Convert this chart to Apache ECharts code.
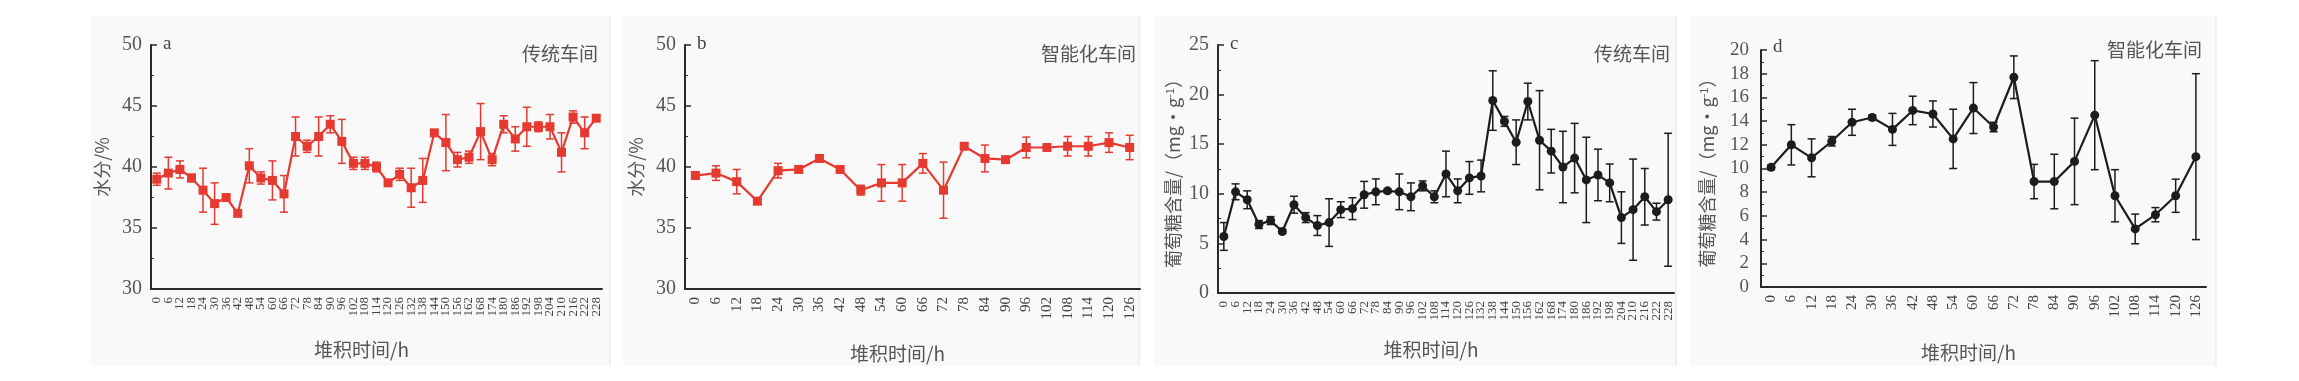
<!DOCTYPE html>
<html>
<head>
<meta charset="utf-8">
<script src="https://cdn.jsdelivr.net/npm/echarts@6/dist/echarts.min.js"></script>
<style>
html,body{margin:0;padding:0;background:#fff;}
#chart{width:2299px;height:381px;}
</style>
</head>
<body>
<div id="chart"></div>
<script>
// ---------- data ----------
const hoursLong = ['0','6','12','18','24','30','36','42','48','54','60','66','72','78','84','90','96','102','108','114','120','126','132','138','144','150','156','162','168','174','180','186','192','198','204','210','216','222','228'];
const hoursShort = ['0','6','12','18','24','30','36','42','48','54','60','66','72','78','84','90','96','102','108','114','120','126'];

// a: moisture, traditional workshop
const moistTrad = [39.0,39.5,39.8,39.1,38.1,37.0,37.5,36.2,40.1,39.1,38.9,37.8,42.5,41.7,42.5,43.5,42.1,40.3,40.3,40.0,38.7,39.4,38.3,38.9,42.8,42.0,40.6,40.8,42.9,40.6,43.5,42.3,43.3,43.3,43.3,41.2,44.1,42.8,44.0];
const moistTradErr = [0.5,1.3,0.7,0.3,1.8,1.7,0.2,0.2,1.4,0.5,1.6,1.5,1.6,0.5,1.6,0.7,1.8,0.5,0.5,0.4,0.2,0.5,1.6,1.8,0.2,2.3,0.6,0.5,2.3,0.5,0.7,1.0,1.6,0.4,1.0,1.6,0.5,1.3,0.2];

// b: moisture, intelligent workshop
const moistSmart = [39.3,39.5,38.8,37.2,39.7,39.8,40.7,39.8,38.1,38.7,38.7,40.3,38.1,41.7,40.7,40.6,41.6,41.6,41.7,41.7,42.0,41.6];
const moistSmartErr = [0.3,0.6,1.0,0.2,0.6,0.2,0.3,0.2,0.4,1.5,1.5,0.8,2.3,0.2,1.1,0.2,0.85,0.3,0.8,0.8,0.8,1.0];

// c: glucose, traditional workshop
const glucTrad = [5.7,10.2,9.4,6.9,7.3,6.2,8.9,7.6,6.8,7.1,8.4,8.5,9.9,10.2,10.3,10.2,9.7,10.8,9.7,12.0,10.3,11.6,11.8,19.4,17.3,15.2,19.3,15.4,14.3,12.7,13.6,11.4,11.9,11.1,7.6,8.4,9.7,8.2,9.4];
const glucTradErr = [1.4,0.8,0.9,0.4,0.4,0.2,0.85,0.5,1.0,2.4,0.8,1.1,1.35,1.3,0.2,1.8,1.4,0.5,0.6,2.3,1.2,1.65,1.6,3.0,0.5,2.25,1.85,5.0,2.2,3.6,3.5,4.3,2.6,1.9,2.6,5.1,2.85,0.85,6.7];

// d: glucose, intelligent workshop
const glucSmart = [10.1,12.0,10.9,12.3,13.9,14.3,13.3,14.9,14.6,12.5,15.1,13.5,17.7,8.9,8.9,10.6,14.5,7.7,4.9,6.1,7.7,11.0];
const glucSmartErr = [0.2,1.7,1.6,0.4,1.1,0.2,1.35,1.2,1.1,2.5,2.15,0.4,1.8,1.45,2.3,3.65,4.6,2.2,1.25,0.6,1.4,7.0];

const xName = '堆积时间/h';
const yNameMoist = '水分/%';
const panelTags = ['a','b','c','d'];
const panelTitles = ['传统车间','智能化车间','传统车间','智能化车间'];

// ---------- layout ----------
const RED = '#e6392f', BLACK = '#1c1c1c';
const grids = [
  {left:151, top:45, width:451, height:244},
  {left:685, top:45, width:455, height:244},
  {left:1218, top:45, width:456, height:248},
  {left:1761, top:50, width:445, height:237}
];
const panels = [
  {x:91,  w:519},
  {x:623, w:516},
  {x:1154,w:522},
  {x:1690,w:526}
];
const SERIF = '"Liberation Serif","DejaVu Serif",serif';
const CJK = '"Noto Sans CJK SC","Noto Sans",sans-serif';

const xCfg = [
  {cats:hoursLong, fs:13, gap:51},
  {cats:hoursShort, fs:15, gap:55},
  {cats:hoursLong, fs:13, gap:47},
  {cats:hoursShort, fs:15, gap:56}
];
const yCfg = [
  {min:30,max:50,interval:5,name:yNameMoist,gap:40},
  {min:30,max:50,interval:5,name:yNameMoist,gap:40},
  {min:0,max:25,interval:5,name:'葡萄糖含量/（mg•g{sup|-1}）',gap:35},
  {min:0,max:20,interval:2,name:'葡萄糖含量/（mg•g{sup|-1}）',gap:44}
];

const xAxes = [], yAxes = [];
xCfg.forEach((c,i)=>{
  xAxes.push({
    type:'category', gridIndex:i, data:c.cats, boundaryGap:true,
    axisLine:{lineStyle:{color:'#2a2a2a',width:2}},
    axisTick:{inside:true, alignWithLabel:true, length:5, lineStyle:{color:'#2a2a2a',width:1.5}},
    axisLabel:{interval:0, rotate:90, fontFamily:SERIF, fontSize:c.fs, color:'#444', margin:8},
    name:xName, nameLocation:'middle', nameGap:c.gap,
    nameTextStyle:{fontFamily:CJK, fontSize:19, color:'#555', padding:[0,30,0,0]}
  });
});
xCfg.forEach((c,i)=>{
  xAxes.push({
    type:'category', gridIndex:i, data:c.cats, boundaryGap:true,
    axisLine:{show:false},
    axisTick:{inside:true, alignWithLabel:false, length:3, lineStyle:{color:'#2a2a2a',width:1}},
    axisLabel:{show:false}
  });
});
yCfg.forEach((c,i)=>{
  yAxes.push({
    type:'value', gridIndex:i, min:c.min, max:c.max, interval:c.interval,
    splitLine:{show:false},
    axisLine:{show:true, lineStyle:{color:'#2a2a2a',width:2}},
    axisTick:{show:true, inside:true, length:6, lineStyle:{color:'#2a2a2a',width:1.5}},
    minorTick:{show:true, splitNumber:2, length:3, lineStyle:{color:'#2a2a2a',width:1}},
    axisLabel:{fontFamily:SERIF, fontSize: i===3?19:20, color:'#555', margin: i===3?12:9},
    name:c.name, nameLocation:'middle', nameGap:c.gap, nameRotate:90,
    nameTextStyle:{fontFamily:CJK, fontSize:18, color:'#555',
      rich:{sup:{fontFamily:CJK, fontSize:11, color:'#555', verticalAlign:'top', padding:[0,0,8,0]}}}
  });
});

function errSeries(idx, vals, errs, color){
  return {
    type:'custom', xAxisIndex:idx, yAxisIndex:idx, z:2,
    data: vals.map((v,k)=>[k, v, errs[k]]),
    renderItem:function(params, api){
      const k = api.value(0), v = api.value(1), e = api.value(2);
      const hi = api.coord([k, v+e]);
      const lo = api.coord([k, v-e]);
      const hw = 4;
      const st = {stroke:color, lineWidth:1.5};
      return {type:'group', children:[
        {type:'line', shape:{x1:hi[0],y1:hi[1],x2:lo[0],y2:lo[1]}, style:st},
        {type:'line', shape:{x1:hi[0]-hw,y1:hi[1],x2:hi[0]+hw,y2:hi[1]}, style:st},
        {type:'line', shape:{x1:lo[0]-hw,y1:lo[1],x2:lo[0]+hw,y2:lo[1]}, style:st}
      ]};
    }
  };
}
function lineSeries(idx, vals, color, symbol, size){
  return {
    type:'line', xAxisIndex:idx, yAxisIndex:idx, data:vals, z:3,
    symbol:symbol, symbolSize:size, showAllSymbol:true,
    lineStyle:{color:color, width:2.2},
    itemStyle:{color:color, borderWidth:0},
    emphasis:{disabled:true}
  };
}

const series = [
  errSeries(0, moistTrad, moistTradErr, RED),
  lineSeries(0, moistTrad, RED, 'rect', 9),
  errSeries(1, moistSmart, moistSmartErr, RED),
  lineSeries(1, moistSmart, RED, 'rect', 9),
  errSeries(2, glucTrad, glucTradErr, BLACK),
  lineSeries(2, glucTrad, BLACK, 'circle', 9),
  errSeries(3, glucSmart, glucSmartErr, BLACK),
  lineSeries(3, glucSmart, BLACK, 'circle', 9)
];

const graphics = [];
panels.forEach((p,i)=>{
  graphics.push({type:'rect', z:-10, shape:{x:p.x, y:16, width:p.w, height:350}, style:{fill:'#f9f9f9'}});
  graphics.push({type:'line', z:-9, shape:{x1:p.x+p.w, y1:16, x2:p.x+p.w, y2:366}, style:{stroke:'#e4e4e4', lineWidth:1}});
  const g = grids[i];
  graphics.push({type:'text', z:10, x:g.left+12, y:g.top - (i===3?12:10),
    style:{text:panelTags[i], font:'19px '+SERIF, fill:'#444', textVerticalAlign:'top'}});
  graphics.push({type:'text', z:10, x:g.left+g.width-4, y:(i===3?40:44),
    style:{text:panelTitles[i], font:'19px '+CJK, fill:'#555', textAlign:'right', textVerticalAlign:'top'}});
});

const chart = echarts.init(document.getElementById('chart'), null, {renderer:'canvas'});
chart.setOption({
  animation:false,
  backgroundColor:'#ffffff',
  grid: grids.map(g=>Object.assign({containLabel:false, outerBoundsMode:'none'}, g)),
  xAxis:xAxes,
  yAxis:yAxes,
  series:series,
  graphic:graphics
});
</script>
</body>
</html>
